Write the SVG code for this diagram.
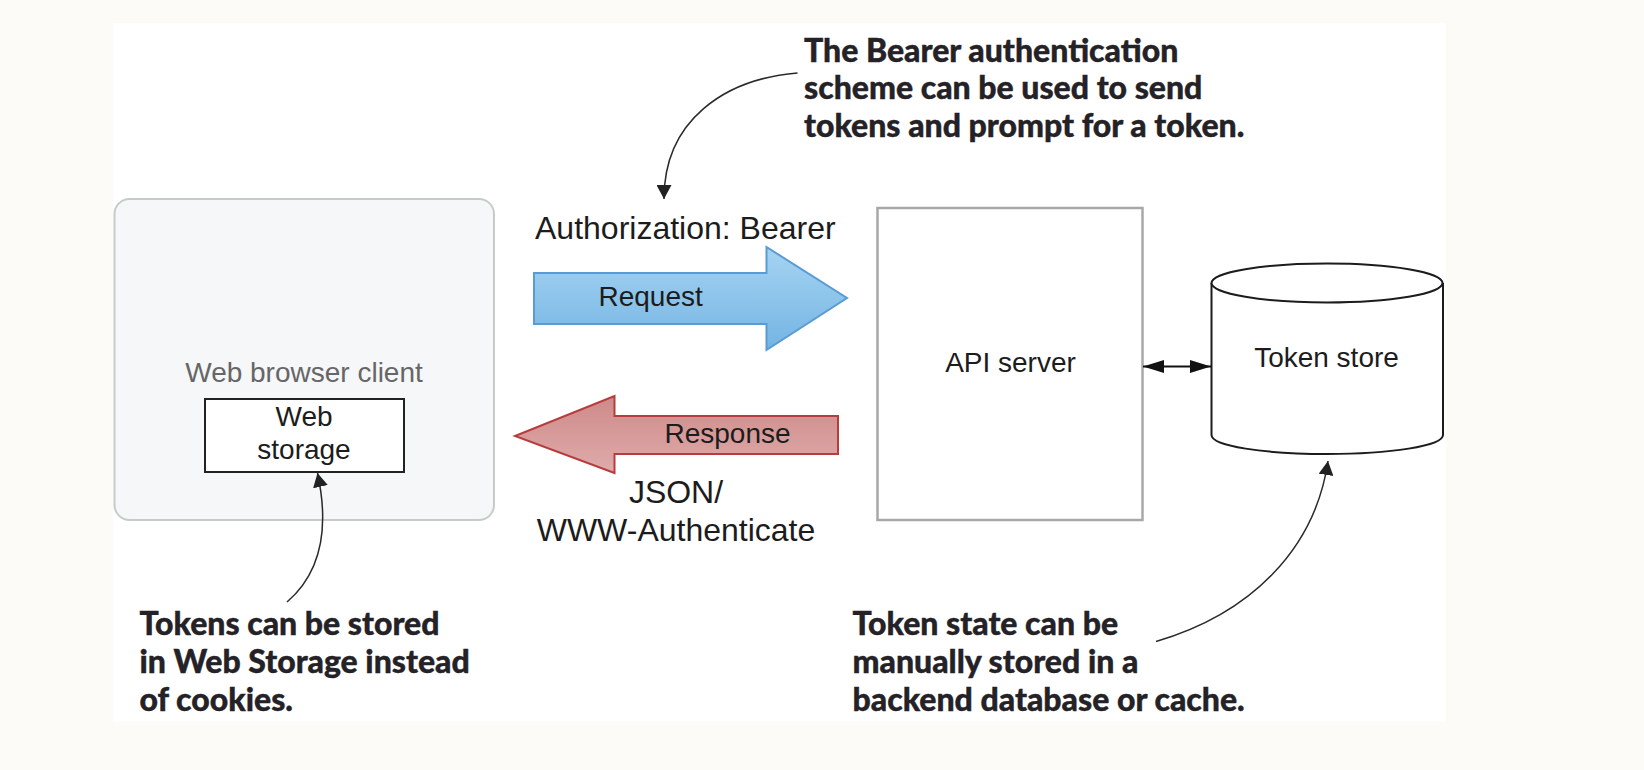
<svg xmlns="http://www.w3.org/2000/svg" width="1644" height="770" viewBox="0 0 1644 770">
<style>
.t{font-family:"Liberation Sans",Arial,sans-serif;fill:#1c1c1c}
.n{font-size:28px}
.l{font-size:32px}
.c{font-family:Lato,"Open Sans",sans-serif;font-weight:900;font-size:32px;fill:#242226;stroke:#242226;stroke-width:.4}
.m{text-anchor:middle}
.lead{fill:none;stroke:#2a2a2a;stroke-width:1.5}
</style>
<defs>
<linearGradient id="blue" x1="0" y1="0" x2="0" y2="1"><stop offset="0" stop-color="#a6d4f2"/><stop offset="1" stop-color="#74b4e3"/></linearGradient>
<linearGradient id="red" x1="0" y1="0" x2="0" y2="1"><stop offset="0" stop-color="#cd8a88"/><stop offset="1" stop-color="#dfabab"/></linearGradient>
<marker id="ah" markerUnits="userSpaceOnUse" markerWidth="16" markerHeight="15" refX="14" refY="7.500" orient="auto"><path d="M0 0L14 7.500L0 15Z" fill="#222"/></marker>
<marker id="dbl" markerUnits="userSpaceOnUse" markerWidth="22" markerHeight="14" refX="21" refY="6.500" orient="auto-start-reverse"><path d="M0 0L21 6.500L0 13Z" fill="#111"/></marker>
</defs>
<rect id="page" width="1644" height="770" fill="#fcfbf7"/>
<rect id="sheet" x="113" y="23" width="1333" height="698.500" fill="#fff"/>
<g id="browser">
<rect x="114.500" y="199" width="379.500" height="321" rx="15" fill="#f6f7f9" stroke="#c6cbc9" stroke-width="2"/>
<text class="t n m" x="304" y="382" style="fill:#666">Web browser client</text>
</g>
<g id="webstorage">
<rect x="205" y="399" width="199" height="73" fill="#fff" stroke="#222" stroke-width="2"/>
<text class="t n m" x="304" y="426">Web</text>
<text class="t n m" x="304" y="459">storage</text>
</g>
<g id="request">
<path d="M534 273H766.500V247L847 298L766.500 350V324H534Z" fill="url(#blue)" stroke="#5a9bd3" stroke-width="2"/>
<text class="t n" x="598.500" y="306">Request</text>
</g>
<g id="response">
<path d="M838 416H614.500V396L515 436L614.500 473V454H838Z" fill="url(#red)" stroke="#b83c3e" stroke-width="2"/>
<text class="t n" x="664.500" y="443">Response</text>
</g>
<g id="api">
<rect x="877.500" y="208" width="265" height="312" fill="#fff" stroke="#a8a8a8" stroke-width="2.500"/>
<text class="t n m" x="1010.500" y="372">API server</text>
</g>
<g id="store">
<path d="M1211.500 283V435C1211.500 446 1264 454 1327 454S1443 446 1443 435V283" fill="#fff" stroke="#1c1c1c" stroke-width="2"/>
<ellipse cx="1327" cy="283" rx="115.500" ry="19.500" fill="#fff" stroke="#1c1c1c" stroke-width="2"/>
<text class="t n m" x="1326.500" y="367">Token store</text>
</g>
<g id="labels">
<text class="t l" x="535" y="239">Authorization: Bearer</text>
<text class="t l m" x="676" y="503">JSON/</text>
<text class="t l m" x="676" y="541">WWW-Authenticate</text>
</g>
<g id="callouts">
<text class="c" x="804" y="62">The Bearer authentication</text>
<text class="c" x="804" y="99">scheme can be used to send</text>
<text class="c" x="804" y="137">tokens and prompt for a token.</text>
<text class="c" x="139.500" y="635">Tokens can be stored</text>
<text class="c" x="139.500" y="673">in Web Storage instead</text>
<text class="c" x="139.500" y="711">of cookies.</text>
<text class="c" x="852.500" y="635">Token state can be</text>
<text class="c" x="852.500" y="673">manually stored in a</text>
<text class="c" x="852.500" y="711">backend database or cache.</text>
</g>
<g id="connectors">
<path class="lead" d="M797.500 73C725 79 664 120 664 199" marker-end="url(#ah)"/>
<path class="lead" d="M287 602C315 578 332 540 317.500 473" marker-end="url(#ah)"/>
<path class="lead" d="M1156 641.500C1250 614 1315 550 1328 461" marker-end="url(#ah)"/>
<line x1="1143" y1="366.500" x2="1211" y2="366.500" stroke="#111" stroke-width="2" marker-start="url(#dbl)" marker-end="url(#dbl)"/>
</g>
</svg>
